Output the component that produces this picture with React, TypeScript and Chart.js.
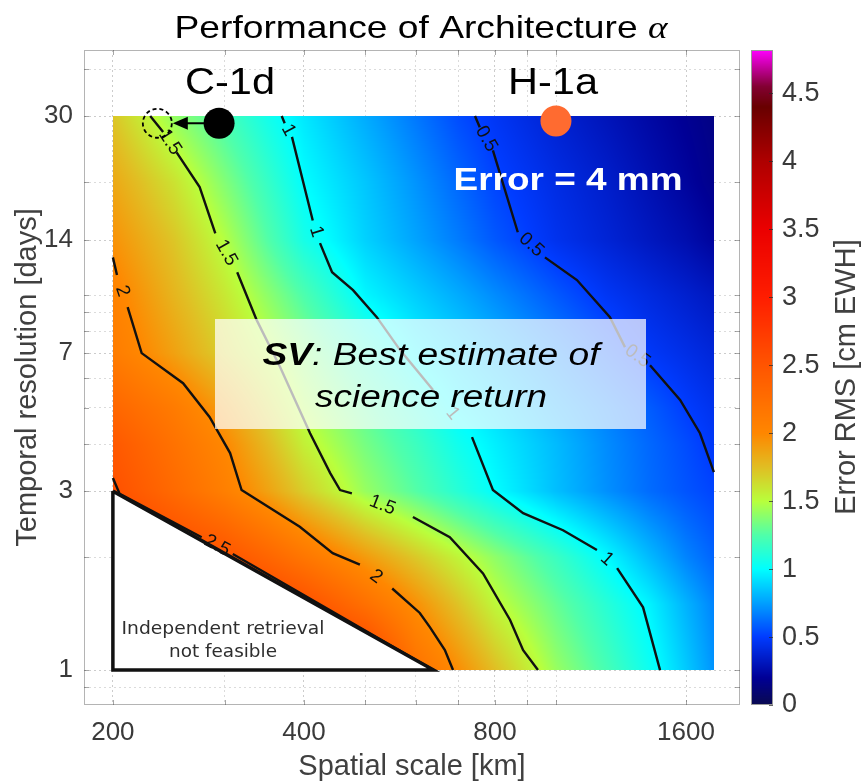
import React, { useEffect, useRef } from 'react';
import { Chart, registerables } from 'chart.js';

Chart.register(...registerables);
Chart.defaults.font.family = "'Liberation Sans', Arial, sans-serif";

// ---------------- data ----------------
const SPATIAL_KM = [200, 250, 300, 350, 400, 500, 600, 700, 800, 1000, 1200, 1400, 1600, 1770];
const TEMPORAL_DAYS = [1, 1.5, 2, 3, 4, 5, 7, 10, 14, 20, 30];

// Error RMS [cm EWH], one row per temporal resolution, columns follow SPATIAL_KM
const ERR_1D = [3.2, 3.1, 3.0, 2.95, 2.9, 2.8, 2.22, 1.97, 1.75, 1.42, 1.22, 1.04, 0.86, 0.72];
const ERR_1_5D = [3.0, 2.9, 2.8, 2.68, 2.55, 2.23, 1.96, 1.73, 1.53, 1.3, 1.12, 0.97, 0.8, 0.68];
const ERR_2D = [2.8, 2.65, 2.52, 2.34, 2.17, 1.91, 1.71, 1.54, 1.4, 1.18, 0.99, 0.82, 0.68, 0.6];
const ERR_3D = [2.55, 2.29, 2.08, 1.88, 1.69, 1.42, 1.26, 1.12, 1.0, 0.83, 0.71, 0.62, 0.56, 0.52];
const ERR_4D = [2.47, 2.21, 2.0, 1.77, 1.56, 1.34, 1.19, 1.05, 0.96, 0.82, 0.7, 0.61, 0.54, 0.48];
const ERR_5D = [2.33, 2.12, 1.89, 1.67, 1.48, 1.28, 1.12, 0.98, 0.91, 0.77, 0.67, 0.58, 0.5, 0.45];
const ERR_7D = [2.11, 1.88, 1.68, 1.52, 1.38, 1.15, 0.98, 0.89, 0.81, 0.68, 0.57, 0.48, 0.43, 0.39];
const ERR_10D = [2.05, 1.79, 1.59, 1.4, 1.24, 0.98, 0.87, 0.78, 0.7, 0.57, 0.47, 0.41, 0.36, 0.32];
const ERR_14D = [1.95, 1.72, 1.49, 1.26, 1.07, 0.88, 0.76, 0.66, 0.57, 0.45, 0.38, 0.32, 0.27, 0.22];
const ERR_20D = [1.85, 1.61, 1.37, 1.17, 1.0, 0.85, 0.72, 0.61, 0.52, 0.42, 0.35, 0.28, 0.22, 0.17];
const ERR_30D = [1.72, 1.41, 1.22, 1.06, 0.94, 0.78, 0.65, 0.54, 0.47, 0.37, 0.3, 0.24, 0.19, 0.15];
const ERROR_ROWS = [ERR_1D, ERR_1_5D, ERR_2D, ERR_3D, ERR_4D, ERR_5D, ERR_7D, ERR_10D, ERR_14D, ERR_20D, ERR_30D];

// contour lines [km, days]; null = gap where the level label sits
type Pt = [number, number] | null;
const CONTOUR_0_5: Pt[] = [[744, 30], [757, 28.0], null, [794, 24.3], [869, 14.7], null, [959, 12.6], [1077, 10.96], [1214, 8.73], [1282, 7.26], null, [1404, 6.5], [1566, 5.25], [1683, 4.28], [1770, 3.37]];
const CONTOUR_1: Pt[] = [[369, 30], [373, 28.7], null, [383, 26.4], [413, 15.8], null, [424, 13.75], [443, 11.5], [478, 10.3], [521, 8.73], [567, 7.13], [639, 5.58], null, [736, 4.18], [794, 3.02], [886, 2.62], [1024, 2.36], [1158, 2.09], null, [1246, 1.87], [1369, 1.47], [1456, 1.0]];
const CONTOUR_1_5: Pt[] = [[229, 30], [240, 27.2], null, [252, 24.0], [274, 19.4], [290, 14.6], null, [314, 11.5], [337, 8.57], [367, 6.42], [409, 4.28], [440, 3.35], [456, 3.02], [476, 2.96], null, [594, 2.56], [679, 2.26], [766, 1.81], [845, 1.36], [886, 1.13], [935, 1.0]];
const CONTOUR_2: Pt[] = [[200, 12.6], [203, 11.3], null, [211, 9.28], [222, 7.0], [258, 5.82], [284, 4.73], [306, 3.79], [319, 3.02], [394, 2.41], [444, 2.05], [490, 1.91], null, [551, 1.65], [609, 1.42], [632, 1.3], [667, 1.13], [687, 1.0]];
const CONTOUR_2_5: Pt[] = [[200, 3.25], [205, 2.95], [276, 2.26], null, [309, 2.04], [640, 1.0]];
const CONTOUR_LEVELS = [0.5, 1, 1.5, 2, 2.5];
const CONTOURS = [CONTOUR_0_5, CONTOUR_1, CONTOUR_1_5, CONTOUR_2, CONTOUR_2_5];

// infeasible region
const TRIANGLE_KM = [200, 200, 640, 200];
const TRIANGLE_DAYS = [3, 1, 1, 3];

// architecture markers: C-1d, H-1a
const MARKER_KM = [294, 998];
const MARKER_DAYS = [28.7, 29.1];
const C1D_TARGET_KM = 235;
const C1D_TARGET_DAYS = 28.7;

// ticks
const X_GRID = [200, 300, 400, 500, 600, 700, 800, 900, 1000, 1600];
const X_TICK_LABELS = [200, 400, 800, 1600];
const Y_GRID = [0.9, 1, 2, 3, 4, 5, 6, 7, 8, 9, 10, 14, 20, 30, 40];
const Y_TICK_LABELS = [1, 3, 7, 14, 30];
const CB_TICKS = [0, 0.5, 1, 1.5, 2, 2.5, 3, 3.5, 4, 4.5];
const CB_MAX = 4.82;

// colormap stops [value, r, g, b]
const CMAP: number[][] = [
  [0, 10, 10, 80], [0.2, 0, 0, 150], [0.5, 0, 60, 255], [0.75, 0, 160, 255], [1.0, 0, 255, 255],
  [1.25, 80, 255, 170], [1.5, 185, 255, 60], [1.75, 225, 190, 35], [2.0, 255, 135, 0],
  [2.5, 255, 85, 0], [3.0, 255, 30, 0], [3.5, 235, 0, 0], [4.0, 175, 0, 0], [4.4, 105, 0, 0],
  [4.55, 130, 0, 50], [4.82, 255, 0, 255],
];

// ---------------- helpers ----------------
function colorFor(v: number): [number, number, number] {
  if (v <= CMAP[0][0]) return [CMAP[0][1], CMAP[0][2], CMAP[0][3]];
  for (let i = 0; i < CMAP.length - 1; i++) {
    const a = CMAP[i], b = CMAP[i + 1];
    if (v <= b[0]) {
      const t = (v - a[0]) / (b[0] - a[0]);
      return [a[1] + t * (b[1] - a[1]), a[2] + t * (b[2] - a[2]), a[3] + t * (b[3] - a[3])];
    }
  }
  const l = CMAP[CMAP.length - 1];
  return [l[1], l[2], l[3]];
}

function locate(arr: number[], v: number): [number, number] {
  const lv = Math.log(v);
  let i = 0;
  while (i < arr.length - 2 && Math.log(arr[i + 1]) < lv) i++;
  let t = (lv - Math.log(arr[i])) / (Math.log(arr[i + 1]) - Math.log(arr[i]));
  t = Math.max(0, Math.min(1, t));
  return [i, t];
}

function sampleError(km: number, days: number) {
  const [i, t] = locate(SPATIAL_KM, km);
  const [j, u] = locate(TEMPORAL_DAYS, days);
  const r0 = ERROR_ROWS[j], r1 = ERROR_ROWS[j + 1];
  return (1 - t) * (1 - u) * r0[i] + t * (1 - u) * r0[i + 1] + (1 - t) * u * r1[i] + t * u * r1[i + 1];
}

function drawFitted(ctx: CanvasRenderingContext2D, parts: [string, string][], cx: number, baseline: number, targetW: number, color: string) {
  ctx.save();
  let total = 0;
  const widths = parts.map(([txt, font]) => { ctx.font = font; const w = ctx.measureText(txt).width; total += w; return w; });
  const s = targetW / total;
  ctx.translate(cx - targetW / 2, baseline);
  ctx.scale(s, 1);
  ctx.fillStyle = color;
  ctx.textAlign = 'left';
  ctx.textBaseline = 'alphabetic';
  let x = 0;
  parts.forEach(([txt, font], k) => { ctx.font = font; ctx.fillText(txt, x, 0); x += widths[k]; });
  ctx.restore();
}

// ---------------- plugins ----------------
const heatmapPlugin = {
  id: 'heatmap',
  beforeDatasetsDraw(chart: any) {
    const { ctx, scales } = chart;
    const x = scales.x, y = scales.y;
    const left = Math.round(x.getPixelForValue(SPATIAL_KM[0]));
    const right = Math.round(x.getPixelForValue(SPATIAL_KM[SPATIAL_KM.length - 1]));
    const top = Math.round(y.getPixelForValue(TEMPORAL_DAYS[TEMPORAL_DAYS.length - 1]));
    const bottom = Math.round(y.getPixelForValue(TEMPORAL_DAYS[0]));
    const w = right - left, h = bottom - top;
    const off = document.createElement('canvas');
    off.width = w; off.height = h;
    const octx = off.getContext('2d')!;
    const img = octx.createImageData(w, h);
    const kmCol: number[] = [];
    for (let i = 0; i < w; i++) kmCol.push(x.getValueForPixel(left + i + 0.5));
    for (let j = 0; j < h; j++) {
      const days = y.getValueForPixel(top + j + 0.5);
      for (let i = 0; i < w; i++) {
        const c = colorFor(sampleError(kmCol[i], days));
        const k = (j * w + i) * 4;
        img.data[k] = c[0]; img.data[k + 1] = c[1]; img.data[k + 2] = c[2]; img.data[k + 3] = 255;
      }
    }
    octx.putImageData(img, 0, 0);
    ctx.drawImage(off, left, top);
  },
};

const overlayPlugin = {
  id: 'overlay',
  afterDatasetsDraw(chart: any) {
    const { ctx, scales } = chart;
    const x = scales.x, y = scales.y;
    // contour labels
    ctx.save();
    ctx.font = "19px 'Liberation Sans'";
    ctx.fillStyle = '#111';
    ctx.textAlign = 'center';
    ctx.textBaseline = 'middle';
    CONTOURS.forEach((pts, ci) => {
      for (let i = 1; i < pts.length - 1; i++) {
        if (pts[i] !== null) continue;
        const a = pts[i - 1]!, b = pts[i + 1]!;
        const ax = x.getPixelForValue(a[0]), ay = y.getPixelForValue(a[1]);
        const bx = x.getPixelForValue(b[0]), by = y.getPixelForValue(b[1]);
        let ang = Math.atan2(by - ay, bx - ax);
        if (ang > Math.PI / 2) ang -= Math.PI;
        if (ang < -Math.PI / 2) ang += Math.PI;
        ctx.save();
        ctx.translate((ax + bx) / 2, (ay + by) / 2);
        ctx.rotate(ang);
        ctx.fillText(String(CONTOUR_LEVELS[ci]), 0, 0);
        ctx.restore();
      }
    });
    ctx.restore();

    // SV box
    ctx.save();
    ctx.fillStyle = 'rgba(255,255,255,0.72)';
    ctx.fillRect(215, 319, 431, 110);
    ctx.restore();
    drawFitted(ctx, [['SV', "italic bold 31px 'Liberation Sans'"], [': Best estimate of', "italic 31px 'Liberation Sans'"]], 431, 365, 337, '#000');
    drawFitted(ctx, [['science return', "italic 31px 'Liberation Sans'"]], 431, 407, 232, '#000');

    // triangle text
    drawFitted(ctx, [['Independent retrieval', "17px 'DejaVu Sans'"]], 223, 634, 203, '#2e2e2e');
    drawFitted(ctx, [['not feasible', "17px 'DejaVu Sans'"]], 223, 657, 108, '#2e2e2e');

    // C-1d move arrow and dashed target circle
    const cx = x.getPixelForValue(MARKER_KM[0]);
    const cy = y.getPixelForValue(MARKER_DAYS[0]);
    const tx = x.getPixelForValue(C1D_TARGET_KM);
    const ty = y.getPixelForValue(C1D_TARGET_DAYS);
    ctx.save();
    ctx.strokeStyle = '#000';
    ctx.lineWidth = 1.8;
    ctx.setLineDash([4, 3]);
    ctx.beginPath();
    ctx.arc(tx, ty, 14.5, 0, Math.PI * 2);
    ctx.stroke();
    ctx.setLineDash([]);
    ctx.lineWidth = 2;
    const tip = tx + 15.5;
    ctx.beginPath();
    ctx.moveTo(tip + 14, ty);
    ctx.lineTo(cx - 15, cy);
    ctx.stroke();
    ctx.beginPath();
    ctx.moveTo(tip, ty);
    ctx.lineTo(tip + 15, ty - 6.5);
    ctx.lineTo(tip + 15, ty + 6.5);
    ctx.closePath();
    ctx.fillStyle = '#000';
    ctx.fill();
    ctx.restore();

    // labels
    drawFitted(ctx, [['C-1d', "36px 'Liberation Sans'"]], 230, 94, 90, '#000');
    drawFitted(ctx, [['H-1a', "36px 'Liberation Sans'"]], 553, 94, 90, '#000');
    drawFitted(ctx, [['Error = 4 mm', "bold 32px 'Liberation Sans'"]], 568, 190, 229, '#fff');
  },
  afterDraw(chart: any) {
    const { ctx, chartArea, scales } = chart;
    const x = scales.x, y = scales.y, cb = scales.cb;
    // axes box + inward ticks
    ctx.save();
    ctx.strokeStyle = '#b4b4b4';
    ctx.lineWidth = 1;
    ctx.strokeRect(chartArea.left + 0.5, chartArea.top + 0.5, chartArea.right - chartArea.left - 1, chartArea.bottom - chartArea.top - 1);
    ctx.strokeStyle = 'rgba(60,60,60,0.45)';
    ctx.beginPath();
    X_GRID.forEach((v) => {
      const px = Math.round(x.getPixelForValue(v)) + 0.5;
      ctx.moveTo(px, chartArea.top); ctx.lineTo(px, chartArea.top + 5);
      ctx.moveTo(px, chartArea.bottom); ctx.lineTo(px, chartArea.bottom - 5);
    });
    Y_GRID.forEach((v) => {
      const py = Math.round(y.getPixelForValue(v)) + 0.5;
      ctx.moveTo(chartArea.left, py); ctx.lineTo(chartArea.left + 5, py);
      ctx.moveTo(chartArea.right, py); ctx.lineTo(chartArea.right - 5, py);
    });
    ctx.stroke();
    ctx.restore();

    // colour bar
    const bx0 = chartArea.right + 11, bw = 22;
    const top = Math.round(cb.getPixelForValue(CB_MAX));
    const bot = Math.round(cb.getPixelForValue(0));
    ctx.save();
    for (let py = top; py < bot; py++) {
      const c = colorFor(cb.getValueForPixel(py + 0.5));
      ctx.fillStyle = `rgb(${c[0] | 0},${c[1] | 0},${c[2] | 0})`;
      ctx.fillRect(bx0, py, bw, 1);
    }
    ctx.strokeStyle = '#9a9a9a';
    ctx.lineWidth = 1;
    ctx.strokeRect(bx0 + 0.5, top + 0.5, bw - 1, bot - top - 1);
    ctx.strokeStyle = 'rgba(40,40,40,0.7)';
    ctx.beginPath();
    CB_TICKS.forEach((v) => {
      const py = Math.round(cb.getPixelForValue(v)) + 0.5;
      ctx.moveTo(bx0 + bw, py); ctx.lineTo(bx0 + bw - 4, py);
    });
    ctx.stroke();
    ctx.restore();

    // colour bar title
    ctx.save();
    ctx.translate(847, 377);
    ctx.rotate(-Math.PI / 2);
    ctx.font = "29px 'Liberation Sans'";
    ctx.fillStyle = '#404040';
    ctx.textAlign = 'center';
    ctx.textBaseline = 'middle';
    ctx.fillText('Error RMS [cm EWH]', 0, 0);
    ctx.restore();

    // chart title
    drawFitted(ctx, [['Performance of Architecture ', "32px 'Liberation Sans'"], ['\u03b1', "italic 32px 'Liberation Serif'"]], 421, 38, 493, '#000');
  },
};

// ---------------- chart ----------------
const toPoints = (pts: Pt[]) => {
  const out: { x: number; y: number | null }[] = [];
  let lastX = pts[0]![0];
  pts.forEach((p) => {
    if (p) { out.push({ x: p[0], y: p[1] }); lastX = p[0]; } else out.push({ x: lastX, y: null });
  });
  return out;
};

const tickFont = { size: 26 };
const tickColor = '#3a3a3a';
const gridColor = (c: any) => (c.tick && (X_TICK_LABELS.includes(c.tick.value) || Y_TICK_LABELS.includes(c.tick.value)) ? 'rgba(0,0,0,0.2)' : 'rgba(0,0,0,0.14)');
const noPad = (s: any) => { s.paddingTop = 0; s.paddingBottom = 0; s.paddingLeft = 0; s.paddingRight = 0; };

export default function App() {
  const ref = useRef<HTMLCanvasElement>(null);
  useEffect(() => {
    const canvas = ref.current!;
    const contourSets = CONTOURS.map((pts, i) => ({
      type: 'line' as const,
      label: `contour ${CONTOUR_LEVELS[i]}`,
      data: toPoints(pts),
      borderColor: '#111',
      borderWidth: 2.4,
      pointRadius: 0,
      tension: 0,
      spanGaps: false,
      fill: false,
      order: 2,
    }));
    const chart = new Chart(canvas, {
      type: 'line',
      data: {
        datasets: [
          ...contourSets,
          {
            type: 'line',
            label: 'not feasible',
            data: TRIANGLE_KM.map((k, i) => ({ x: k, y: TRIANGLE_DAYS[i] })),
            borderColor: '#111',
            borderWidth: 3.5,
            backgroundColor: '#ffffff',
            fill: 'shape',
            pointRadius: 0,
            tension: 0,
            order: 1,
          } as any,
          {
            type: 'scatter',
            label: 'architectures',
            data: MARKER_KM.map((k, i) => ({ x: k, y: MARKER_DAYS[i] })),
            pointRadius: 15.5,
            pointBackgroundColor: ['#000000', '#ff6b30'],
            pointBorderWidth: 0,
            showLine: false,
            order: 0,
          } as any,
        ],
      },
      options: {
        animation: false,
        responsive: false,
        events: [],
        layout: { padding: { top: 50, left: 0, right: 0, bottom: 0 } },
        plugins: { legend: { display: false }, tooltip: { enabled: false }, title: { display: false } },
        scales: {
          x: {
            type: 'logarithmic',
            position: 'bottom',
            min: 180.1,
            max: 1946,
            afterFit: (s: any) => { s.height = 79; noPad(s); },
            afterBuildTicks: (s: any) => { s.ticks = X_GRID.map((v) => ({ value: v })); },
            ticks: {
              autoSkip: false,
              maxRotation: 0,
              padding: 12,
              font: tickFont,
              color: tickColor,
              callback: (v: any) => (X_TICK_LABELS.includes(Number(v)) ? String(v) : ''),
            },
            grid: { color: gridColor, drawTicks: false, lineWidth: 1 },
            border: { display: false, dash: [2, 3] },
            title: { display: true, text: 'Spatial scale [km]', font: { size: 29 }, color: '#404040', padding: { top: 0, bottom: 0 } },
          },
          y: {
            type: 'logarithmic',
            position: 'left',
            min: 0.807,
            max: 45,
            afterFit: (s: any) => { s.width = 84; noPad(s); },
            afterBuildTicks: (s: any) => { s.ticks = Y_GRID.map((v) => ({ value: v })); },
            ticks: {
              autoSkip: false,
              padding: 11,
              font: tickFont,
              color: tickColor,
              callback: (v: any) => (Y_TICK_LABELS.includes(Number(v)) ? String(v) : ''),
            },
            grid: { color: gridColor, drawTicks: false, lineWidth: 1 },
            border: { display: false, dash: [2, 3] },
            title: { display: true, text: 'Temporal resolution [days]', font: { size: 29 }, color: '#404040', padding: { top: 11, bottom: 0 } },
          },
          cb: {
            type: 'linear',
            position: 'right',
            min: 0,
            max: CB_MAX,
            afterFit: (s: any) => { s.width = 123; noPad(s); },
            afterBuildTicks: (s: any) => { s.ticks = CB_TICKS.map((v) => ({ value: v })); },
            ticks: { padding: 42, font: { size: 27 }, color: tickColor, callback: (v: any) => String(v) },
            grid: { display: false, drawTicks: false },
            border: { display: false },
          },
        },
      } as any,
      plugins: [heatmapPlugin, overlayPlugin],
    });
    return () => chart.destroy();
  }, []);
  return (
    <div style={{ position: 'absolute', left: 0, top: 0, width: 863, height: 784, background: '#fff' }}>
      <canvas ref={ref} width={863} height={784} style={{ display: 'block' }} />
    </div>
  );
}
